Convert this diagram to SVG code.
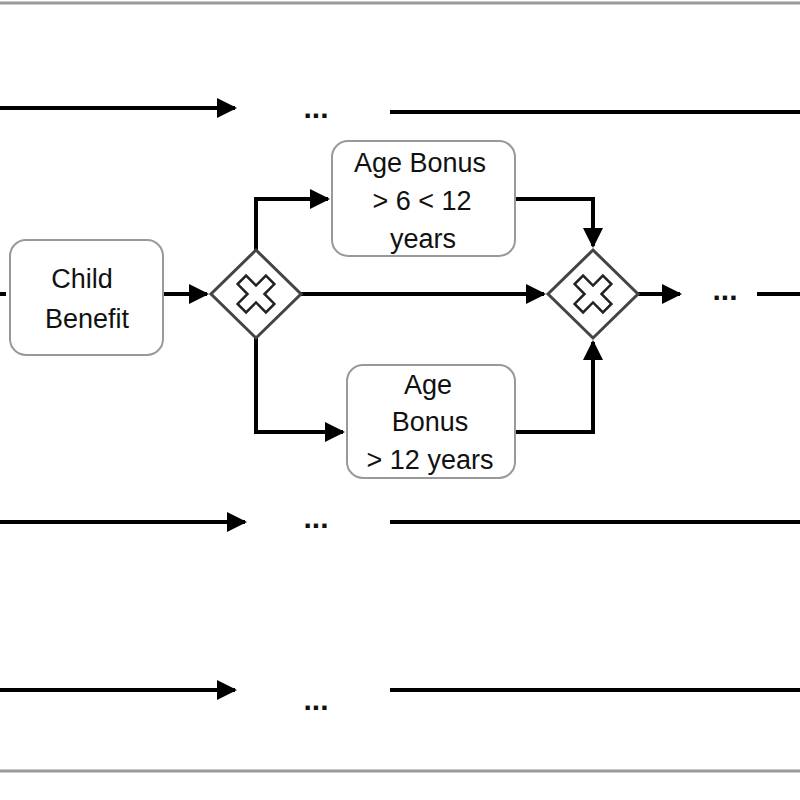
<svg xmlns="http://www.w3.org/2000/svg" width="800" height="800" viewBox="0 0 800 800">
<style>
.l{fill:none;stroke:#000;stroke-width:4}
.n{fill:#fff;stroke:#999;stroke-width:2}
.g{fill:#fff;stroke:#444;stroke-width:3}
.x{fill:#fff;stroke:#222;stroke-width:2.5}
text{font-family:"Liberation Sans",Arial,sans-serif;font-size:27px;fill:#111;text-anchor:middle}
.d{font-size:30px;font-weight:bold}
</style>
<defs><marker id="a" viewBox="0 0 10 10" refX="9" refY="5" markerWidth="5" markerHeight="5" orient="auto" markerUnits="strokeWidth"><path d="M0,0L10,5L0,10z" fill="#000"/></marker></defs>
<rect width="800" height="800" fill="#fff"/>
<line x1="0" y1="3" x2="800" y2="3" stroke="#999" stroke-width="3"/>
<line x1="0" y1="771" x2="800" y2="771" stroke="#999" stroke-width="3"/>
<g id="connectors">
<path class="l" d="M0,108H235" marker-end="url(#a)"/><path class="l" d="M390,112H800"/>
<path class="l" d="M0,522H245" marker-end="url(#a)"/><path class="l" d="M390,522H800"/>
<path class="l" d="M0,690H235" marker-end="url(#a)"/><path class="l" d="M390,690H800"/>
<path class="l" d="M0,294H6"/>
<path class="l" d="M163,294H207" marker-end="url(#a)"/>
<path class="l" d="M256,250V199H328" marker-end="url(#a)"/>
<path class="l" d="M256,338V432H343" marker-end="url(#a)"/>
<path class="l" d="M301,294H544" marker-end="url(#a)"/>
<path class="l" d="M515,199H593V246" marker-end="url(#a)"/>
<path class="l" d="M515,432H593V342" marker-end="url(#a)"/>
<path class="l" d="M638,294H680" marker-end="url(#a)"/>
<path class="l" d="M757,294H800"/>
</g>
<text class="d" x="316" y="118">...</text>
<text class="d" x="316" y="528">...</text>
<text class="d" x="316" y="710">...</text>
<text class="d" x="725" y="300">...</text>
<g id="child"><rect class="n" x="10" y="240" width="153" height="115" rx="16"/><text x="82" y="288">Child</text><text x="87" y="328">Benefit</text></g>
<g id="bonus1"><rect class="n" x="332" y="141" width="183" height="115" rx="16"/><text x="420" y="172">Age Bonus</text><text x="422" y="210">&gt; 6 &lt; 12</text><text x="423" y="248">years</text></g>
<g id="bonus2"><rect class="n" x="347" y="365" width="168" height="113" rx="16"/><text x="428" y="394">Age</text><text x="430" y="431">Bonus</text><text x="430" y="469">&gt; 12 years</text></g>
<g id="gw1"><path class="g" d="M256,250L301,294L256,338L211,294z"/><path class="x" d="M250,274h12v14h14v12h-14v14h-12v-14h-14v-12h14z" transform="rotate(45 256 294)"/></g>
<g id="gw2"><path class="g" d="M593,250L638,294L593,338L548,294z"/><path class="x" d="M587,274h12v14h14v12h-14v14h-12v-14h-14v-12h14z" transform="rotate(45 593 294)"/></g>
</svg>
